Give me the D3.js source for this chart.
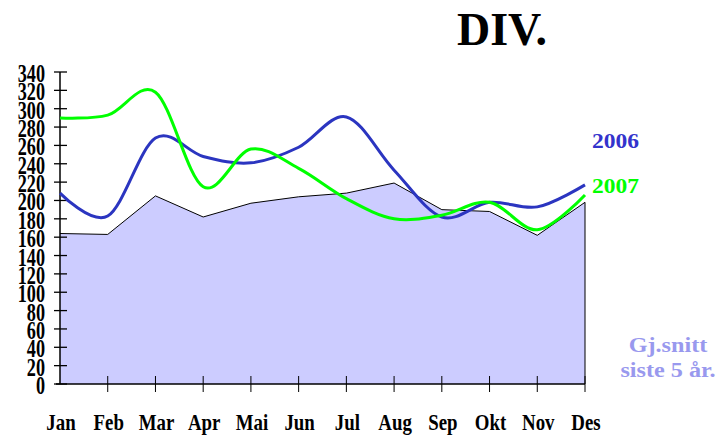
<!DOCTYPE html>
<html><head><meta charset="utf-8">
<script src="https://cdn.jsdelivr.net/npm/d3@7"></script>
<style>html,body{margin:0;padding:0;background:#fff;}svg{display:block;}</style>
</head><body>
<svg id="chart" width="722" height="438"></svg>
<script>
const months = ["Jan","Feb","Mar","Apr","Mai","Jun","Jul","Aug","Sep","Okt","Nov","Des"];
const avg5 = [164, 163, 205, 182, 197, 204, 208, 219, 190, 188, 162, 198];
const y2006 = [208, 183, 268, 248, 241, 258, 291, 233, 182, 198, 193, 217];
const y2007 = [290, 293, 318, 215, 256, 235, 202, 180, 184, 198, 168, 206];
const yTicks = d3.range(0, 341, 20);

const svg = d3.select("#chart");
const x = d3.scalePoint().domain(months).range([60, 585]);
const y = d3.scaleLinear().domain([0, 340]).range([384, 72]);
const serif = "'Liberation Serif','Times New Roman',serif";

// area
const areaGen = d3.area().x((d,i)=>x(months[i])).y0(y(0)).y1(d=>y(d));
svg.append("path").datum(avg5).attr("d", areaGen).attr("fill", "#ccccff");
const topLine = d3.line().x((d,i)=>x(months[i])).y(d=>y(d));
svg.append("path").datum(avg5).attr("d", topLine).attr("fill","none").attr("stroke","#000").attr("stroke-width",1);
svg.append("line").attr("x1",x("Des")).attr("x2",x("Des")).attr("y1",y(avg5[11])).attr("y2",y(0)).attr("stroke","#000").attr("stroke-width",1);

// y axis
svg.append("line").attr("x1",60).attr("x2",60).attr("y1",y(340)).attr("y2",y(0)).attr("stroke","#000").attr("stroke-width",1.5);
yTicks.forEach(t=>{
  svg.append("line").attr("x1",54).attr("x2",67).attr("y1",y(t)).attr("y2",y(t)).attr("stroke","#000").attr("stroke-width",1.3);
  svg.append("text").attr("transform",`translate(45,${y(t)+10}) scale(0.7,1)`)
    .attr("text-anchor","end").attr("font-family",serif).attr("font-weight","bold").attr("font-size",26).attr("fill","#000").text(t);
});

// x axis
svg.append("line").attr("x1",56).attr("x2",585).attr("y1",y(0)).attr("y2",y(0)).attr("stroke","#000").attr("stroke-width",1.5);
months.forEach((m,i)=>{
  if(i>0) svg.append("line").attr("x1",x(m)).attr("x2",x(m)).attr("y1",y(0)-8).attr("y2",y(0)+8).attr("stroke","#000").attr("stroke-width",1);
  svg.append("text").attr("transform",`translate(${x(m)+1},430) scale(0.82,1)`)
    .attr("text-anchor","middle").attr("font-family",serif).attr("font-weight","bold").attr("font-size",23).attr("fill","#000").text(m);
});

// lines
const smooth = d3.line().x((d,i)=>x(months[i])).y(d=>y(d)).curve(d3.curveCatmullRom.alpha(0));
svg.append("path").datum(y2006).attr("d",smooth).attr("fill","none").attr("stroke","#2b35c0").attr("stroke-width",3);
svg.append("path").datum(y2007).attr("d",smooth).attr("fill","none").attr("stroke","#00ff00").attr("stroke-width",3);

// labels
svg.append("text").attr("transform","translate(592,148) scale(1.07,1)").attr("font-family",serif).attr("font-weight","bold").attr("font-size",22).attr("fill","#3333cc").text("2006");
svg.append("text").attr("transform","translate(592,193) scale(1.07,1)").attr("font-family",serif).attr("font-weight","bold").attr("font-size",22).attr("fill","#00ff00").text("2007");
svg.append("text").attr("transform","translate(668,352) scale(1.1,1)").attr("text-anchor","middle").attr("font-family",serif).attr("font-weight","bold").attr("font-size",22).attr("fill","#9999ee").text("Gj.snitt");
svg.append("text").attr("transform","translate(668,377) scale(1.1,1)").attr("text-anchor","middle").attr("font-family",serif).attr("font-weight","bold").attr("font-size",22).attr("fill","#9999ee").text("siste 5 år.");
svg.append("text").attr("x",457).attr("y",45).attr("font-family",serif).attr("font-weight","bold").attr("font-size",46).attr("fill","#000").text("DIV.");
</script>
</body></html>
